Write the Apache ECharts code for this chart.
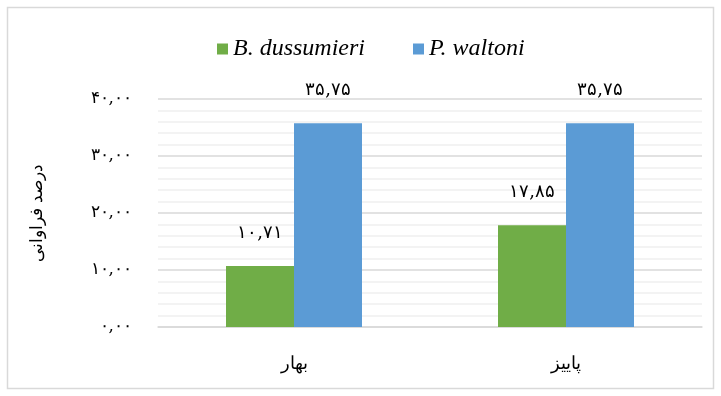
<!DOCTYPE html>
<html>
<head>
<meta charset="utf-8">
<script src="https://cdn.jsdelivr.net/npm/echarts@6/dist/echarts.min.js"></script>
<style>
  html, body { margin: 0; padding: 0; background: #fff; }
  #chart { width: 721px; height: 396px; }
</style>
</head>
<body>
<div id="chart"></div>
<script>
// Seasons (categories) and abundance percentages per species
const categories = ['بهار', 'پاییز'];
const seriesNames = ['B. dussumieri', 'P. waltoni'];
const dussumieriValues = [10.71, 17.85];
const waltoniValues = [35.75, 35.75];
const yAxisTitle = 'درصد فراوانی';

// Convert Latin digits to Persian digits, with a comma as decimal separator
const faDigits = '۰۱۲۳۴۵۶۷۸۹';
function toFa(num) {
  return num.toFixed(2).replace('.', ',').replace(/[0-9]/g, d => faDigits[+d]);
}

const chart = echarts.init(document.getElementById('chart'));
const textFont = '"DejaVu Serif", "Noto Sans", serif';

const barLabel = {
  show: true, position: 'top', distance: 24,
  fontSize: 18, color: '#000', fontFamily: textFont,
  formatter: p => toFa(p.value)
};

chart.setOption({
  animation: false,
  graphic: [{
    type: 'rect',
    shape: { x: 7.5, y: 7.5, width: 706, height: 381 },
    style: { fill: 'none', stroke: '#d9d9d9', lineWidth: 1.5 },
    silent: true
  }],
  legend: {
    top: 32,
    left: 212,
    itemWidth: 11,
    itemHeight: 11,
    itemGap: 48,
    icon: 'rect',
    textStyle: {
      fontFamily: '"Liberation Serif", "Times New Roman", serif',
      fontStyle: 'italic',
      fontSize: 24,
      color: '#000'
    },
    data: seriesNames
  },
  grid: { left: 158, right: 19, top: 99, bottom: 69 },
  xAxis: {
    type: 'category',
    data: categories,
    axisTick: { show: false },
    axisLine: { lineStyle: { color: '#d9d9d9', width: 1.5 } },
    axisLabel: { margin: 28, fontSize: 18, color: '#000', fontFamily: textFont }
  },
  yAxis: {
    type: 'value',
    min: 0,
    max: 40,
    interval: 10,
    name: yAxisTitle,
    nameLocation: 'middle',
    nameGap: 112,
    nameRotate: 90,
    nameTextStyle: { fontSize: 17, color: '#000', fontFamily: textFont },
    axisLine: { show: false },
    axisTick: { show: false },
    axisLabel: {
      margin: 26,
      fontSize: 17,
      color: '#000',
      fontFamily: textFont,
      formatter: v => toFa(v)
    },
    splitLine: { lineStyle: { color: '#d9d9d9', width: 1.5 } },
    minorTick: { show: false, splitNumber: 5 },
    minorSplitLine: { show: true, lineStyle: { color: '#f0f0f0', width: 1.5 } }
  },
  series: [
    {
      name: seriesNames[0],
      type: 'bar',
      data: dussumieriValues,
      barCategoryGap: '50%',
      barGap: '0%',
      itemStyle: { color: '#70ad47' },
      label: barLabel
    },
    {
      name: seriesNames[1],
      type: 'bar',
      data: waltoniValues,
      barCategoryGap: '50%',
      barGap: '0%',
      itemStyle: { color: '#5b9bd5' },
      label: barLabel
    }
  ]
});
</script>
</body>
</html>
